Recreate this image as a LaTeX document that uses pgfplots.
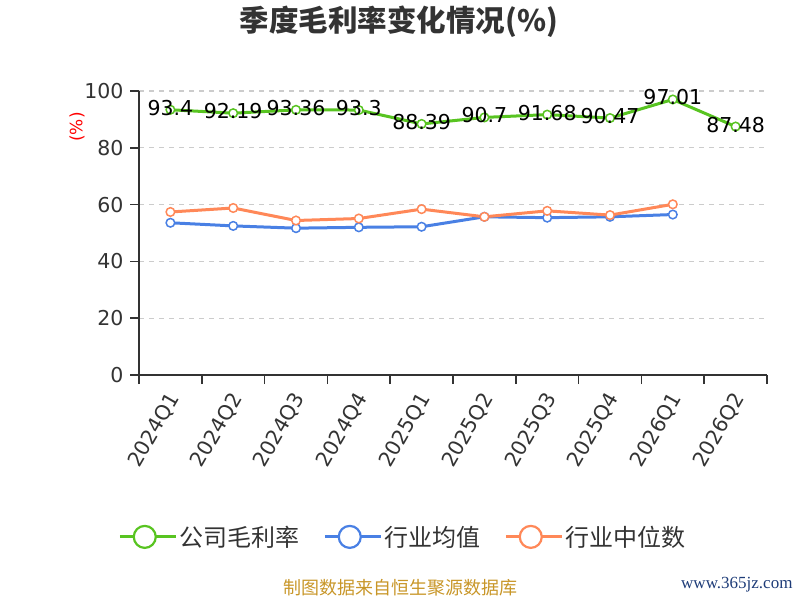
\documentclass[border=0pt]{standalone}
\usepackage{fontspec}
\setmainfont{Noto Sans CJK SC}
\newfontfamily\numfont{DejaVu Sans}
\newfontfamily\wmfont{Liberation Serif}
\usepackage{pgfplots}
\pgfplotsset{compat=1.18}
\definecolor{cg}{RGB}{88,196,33}
\definecolor{cb}{RGB}{73,128,228}
\definecolor{co}{RGB}{255,136,88}
\definecolor{ctxt}{RGB}{51,51,51}
\definecolor{cgrid}{RGB}{204,204,204}
\definecolor{cfoot}{RGB}{200,150,40}
\definecolor{cwm}{RGB}{30,60,120}
\begin{document}
\begin{tikzpicture}[x=1pt,y=1pt]
\path[use as bounding box] (0,0) rectangle (800,600);
\begin{axis}[
  at={(139pt,225pt)}, anchor=south west,
  scale only axis, width=628pt, height=284pt,
  xmin=-0.5, xmax=9.5, ymin=0, ymax=100,
  axis lines=left,
  axis line style={draw=ctxt, line width=1.5pt, -},
  ytick={0,20,40,60,80,100},
  xtick={-0.5,0.5,1.5,2.5,3.5,4.5,5.5,6.5,7.5,8.5,9.5},
  x tick label as interval=true,
  xticklabels={2024Q1,2024Q2,2024Q3,2024Q4,2025Q1,2025Q2,2025Q3,2025Q4,2026Q1,2026Q2},
  tick align=outside,
  major tick length=9pt,
  tick style={draw=ctxt, line width=1.5pt},
  ymajorgrids=true,
  major grid style={draw=cgrid, line width=1.2pt, dash pattern=on 5pt off 5pt},
  tick label style={font=\numfont\fontsize{20.5}{20.5}\selectfont, text=ctxt},
  /pgf/number format/assume math mode=true,
  xticklabel style={rotate=60, anchor=east, xshift=-4pt, yshift=-9pt},
  yticklabel style={xshift=-3pt},
  legend style={at={(0.42,-0.570)}, anchor=center, draw=none, fill=none,
    legend columns=3, font=\fontsize{24}{26}\selectfont, text=ctxt,
    /tikz/every even column/.append style={column sep=22pt}},
  legend cell align=left,
]
\addplot[color=cg, line width=3pt, mark=*, mark size=4.3pt,
  mark options={fill=white, line width=1.5pt},
  nodes near coords, point meta=explicit symbolic,
  nodes near coords style={anchor=center, yshift=2pt, font=\numfont\fontsize{20.5}{20.5}\selectfont, text=black},
  legend image code/.code={\path (0pt,0pt) -- (56pt,0pt);
    \draw[line width=2.2pt] (0pt,0pt) -- (50pt,0pt);
    \draw[line width=2.2pt, fill=white] (25pt,0pt) circle (11pt);}]
coordinates {(0,93.4) [93.4] (1,92.19) [92.19] (2,93.36) [93.36] (3,93.3) [93.3]
 (4,88.39) [88.39] (5,90.7) [90.7] (6,91.68) [91.68] (7,90.47) [90.47]
 (8,97.01) [97.01] (9,87.48) [87.48]};
\addlegendentry{公司毛利率}
\addplot[color=cb, line width=3pt, mark=*, mark size=4.3pt,
  mark options={fill=white, line width=1.5pt},
  legend image code/.code={\path (0pt,0pt) -- (56pt,0pt);
    \draw[line width=2.2pt] (0pt,0pt) -- (50pt,0pt);
    \draw[line width=2.2pt, fill=white] (25pt,0pt) circle (11pt);}]
coordinates {(0,53.6) (1,52.5) (2,51.7) (3,52.0) (4,52.2) (5,55.7) (6,55.4) (7,55.7) (8,56.5)};
\addlegendentry{行业均值}
\addplot[color=co, line width=3pt, mark=*, mark size=4.3pt,
  mark options={fill=white, line width=1.5pt},
  legend image code/.code={\path (0pt,0pt) -- (56pt,0pt);
    \draw[line width=2.2pt] (0pt,0pt) -- (50pt,0pt);
    \draw[line width=2.2pt, fill=white] (25pt,0pt) circle (11pt);}]
coordinates {(0,57.4) (1,58.8) (2,54.4) (3,55.1) (4,58.4) (5,55.7) (6,57.8) (7,56.3) (8,60.1)};
\addlegendentry{行业中位数}
\end{axis}
\node[font=\bfseries\fontsize{29.5}{29.5}\selectfont, text=ctxt] at (399,578) {季度毛利率变化情况(\%)};
\node[rotate=90, text=red, font=\numfont\fontsize{17}{17}\selectfont] at (77,473) {(\%)};
\node[text=cfoot, font=\fontsize{18}{18}\selectfont] at (400,12) {制图数据来自恒生聚源数据库};
\node[text=cwm, font=\wmfont\fontsize{17}{17}\selectfont, anchor=east] at (796,15) {www.365jz.com};
\end{tikzpicture}
\end{document}
